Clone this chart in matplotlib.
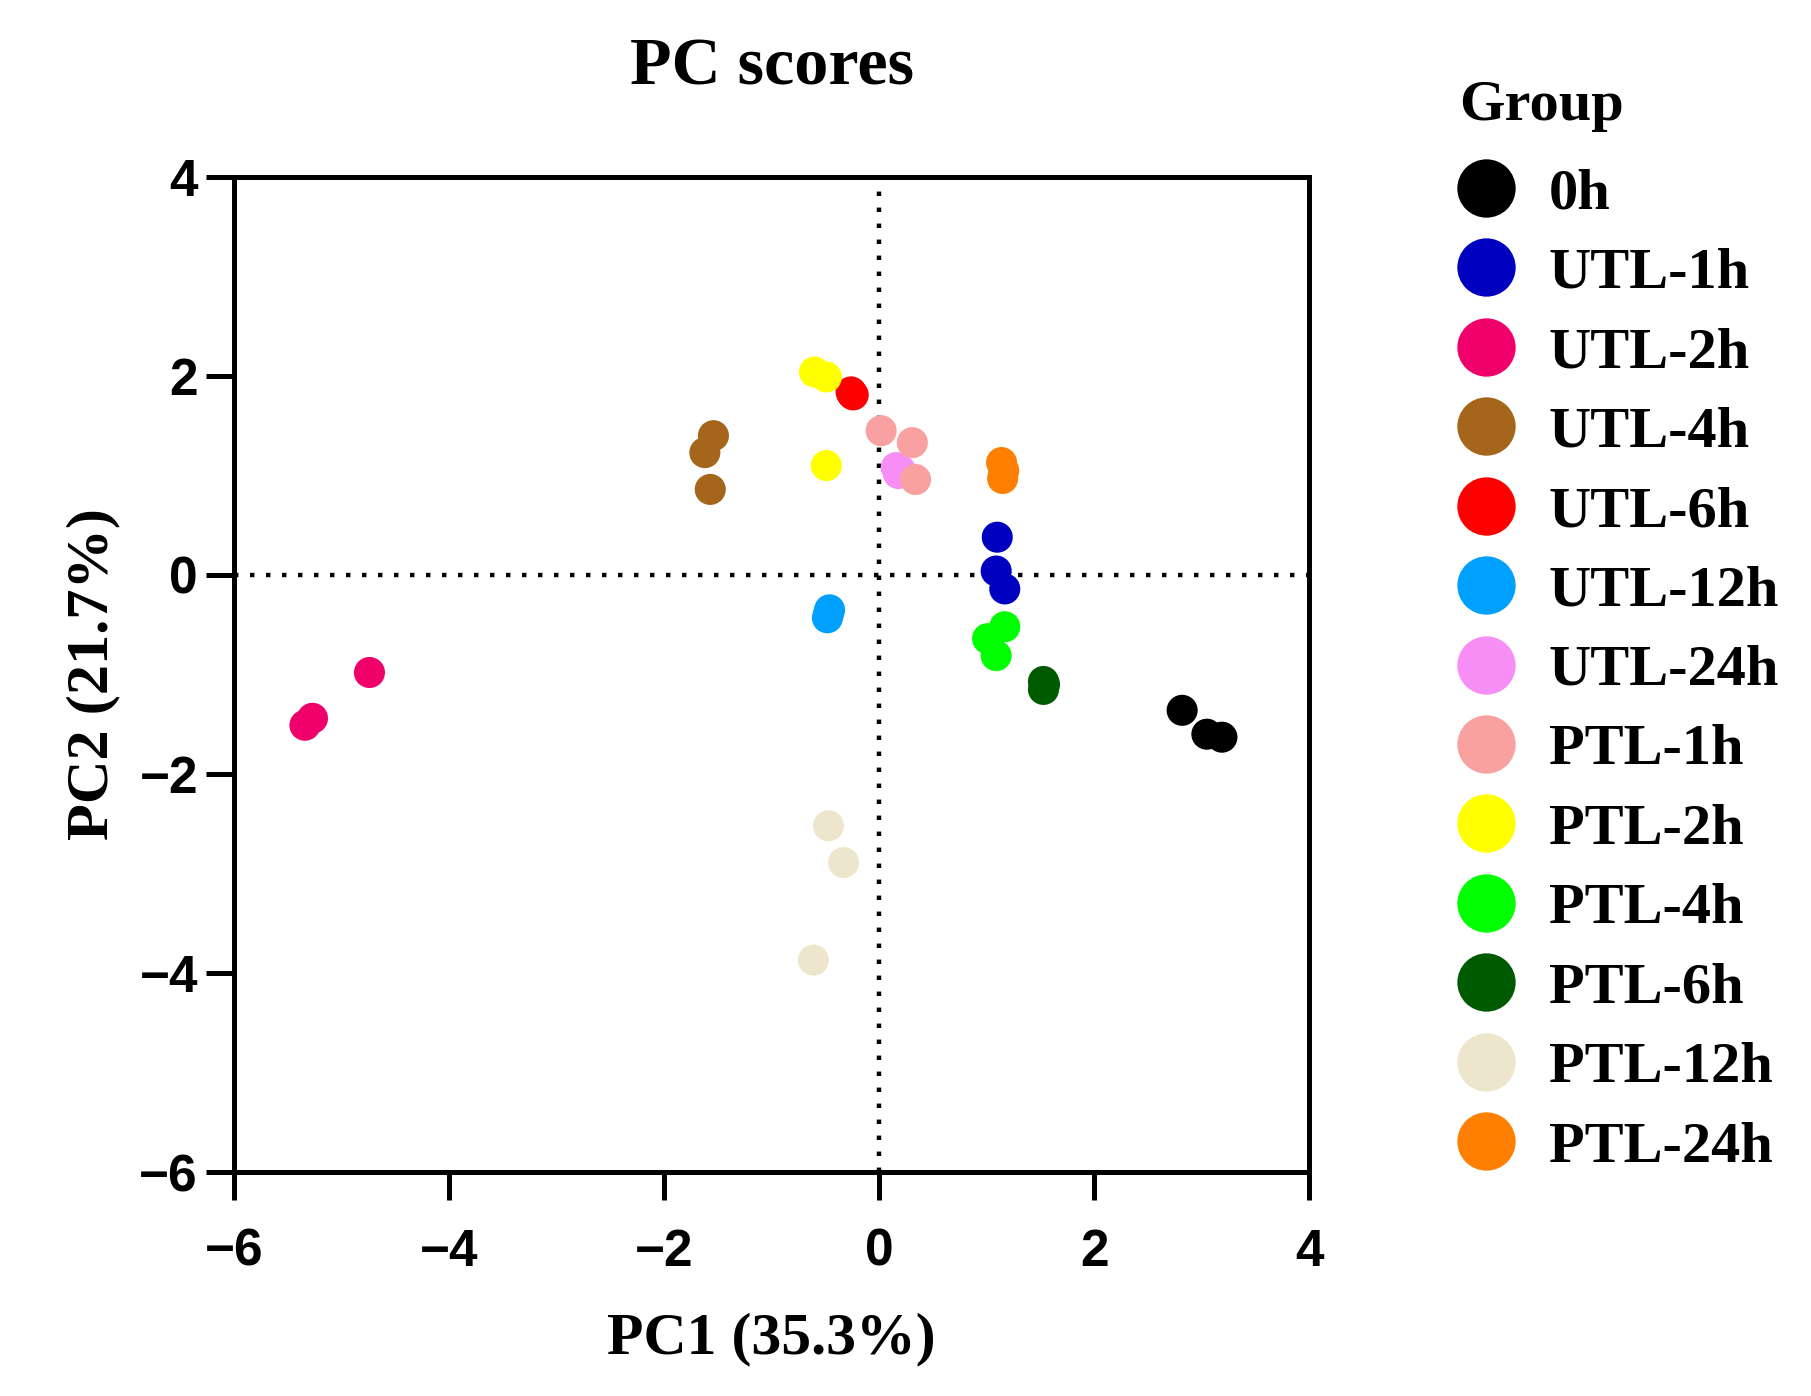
import matplotlib
matplotlib.use("Agg")
import matplotlib.pyplot as plt
from matplotlib.lines import Line2D

plt.rcParams['axes.unicode_minus'] = True

groups = ["0h", "UTL-1h", "UTL-2h", "UTL-4h", "UTL-6h", "UTL-12h", "UTL-24h",
          "PTL-1h", "PTL-2h", "PTL-4h", "PTL-6h", "PTL-12h", "PTL-24h"]
colors = ["#000000", "#0000C0", "#F0006A", "#A5651A", "#FF0000", "#00A0FF", "#F68EF6",
          "#F9A0A0", "#FFFF00", "#00FF00", "#005A00", "#EEE6CC", "#FF8000"]

pc1 = {
    "0h":      [2.82, 3.05, 3.19],
    "UTL-1h":  [1.10, 1.09, 1.17],
    "UTL-2h":  [-5.34, -5.27, -4.74],
    "UTL-4h":  [-1.54, -1.62, -1.57],
    "UTL-6h":  [-0.25, -0.26, -0.24],
    "UTL-12h": [-0.46, -0.48, -0.47],
    "UTL-24h": [0.18, 0.16, 0.20],
    "PTL-1h":  [0.02, 0.31, 0.34],
    "PTL-2h":  [-0.60, -0.49, -0.49],
    "PTL-4h":  [1.01, 1.09, 1.17],
    "PTL-6h":  [1.53, 1.53, 1.54],
    "PTL-12h": [-0.47, -0.33, -0.61],
    "PTL-24h": [1.14, 1.15, 1.16],
}
pc2 = {
    "0h":      [-1.36, -1.60, -1.63],
    "UTL-1h":  [0.38, 0.04, -0.14],
    "UTL-2h":  [-1.51, -1.44, -0.98],
    "UTL-4h":  [1.40, 1.23, 0.86],
    "UTL-6h":  [1.82, 1.84, 1.81],
    "UTL-12h": [-0.35, -0.43, -0.39],
    "UTL-24h": [1.02, 1.08, 1.05],
    "PTL-1h":  [1.45, 1.33, 0.96],
    "PTL-2h":  [2.04, 1.99, 1.10],
    "PTL-4h":  [-0.64, -0.81, -0.52],
    "PTL-6h":  [-1.07, -1.15, -1.10],
    "PTL-12h": [-2.52, -2.89, -3.87],
    "PTL-24h": [1.13, 0.97, 1.05],
}

xticks = [-6, -4, -2, 0, 2, 4]
yticks = [-6, -4, -2, 0, 2, 4]

serif = "Liberation Serif"
sans = "Liberation Sans"

W, H = 1811, 1396
fig = plt.figure(figsize=(W / 100, H / 100), dpi=100)
ax = fig.add_axes([234 / W, 1 - 1172 / H, (1309 - 234) / W, (1172 - 177) / H])

ax.axhline(0, color="black", lw=3.2, linestyle=(0, (1, 2.6)), zorder=1)
ax.axvline(0, color="black", lw=3.2, linestyle=(0, (1, 2.6)), zorder=1)

for g, c in zip(groups, colors):
    ax.scatter(pc1[g], pc2[g], s=500, color=c, edgecolors="none", zorder=3)

ax.set_xlim(-6, 4)
ax.set_ylim(-6, 4)
ax.set_xticks(xticks)
ax.set_yticks(yticks)
for lab in ax.get_xticklabels() + ax.get_yticklabels():
    lab.set_fontfamily(sans)
    lab.set_fontweight("bold")
    lab.set_fontsize(37)
ax.tick_params(axis="both", direction="out", length=20, width=3.6)
ax.tick_params(axis="x", pad=20)
ax.tick_params(axis="y", pad=6)
for sp in ax.spines.values():
    sp.set_linewidth(3.6)

ax.set_xlabel("PC1 (35.3%)", fontfamily=serif, fontweight="bold", fontsize=43, labelpad=26)
ax.set_ylabel("PC2 (21.7%)", fontfamily=serif, fontweight="bold", fontsize=43.5, labelpad=13.5)
ax.set_title("PC scores", fontfamily=serif, fontweight="bold", fontsize=49, pad=66.5)

fig.text(1459 / W, 1 - 120 / H, "Group", fontfamily=serif, fontweight="bold",
         fontsize=42, ha="left", va="baseline")

handles = [Line2D([], [], marker="o", linestyle="none", markersize=42,
                  markerfacecolor=c, markeredgecolor="none") for c in colors]
leg = fig.legend(handles, groups, loc="upper left", bbox_to_anchor=(1457 / W, 1 - 167.5 / H),
                 frameon=False,
                 prop={"family": serif, "weight": "bold", "size": 42},
                 labelspacing=0.456, handlelength=1.0, handletextpad=0.57, borderpad=0,
                 borderaxespad=0)

fig.savefig("out.png", dpi=100)
